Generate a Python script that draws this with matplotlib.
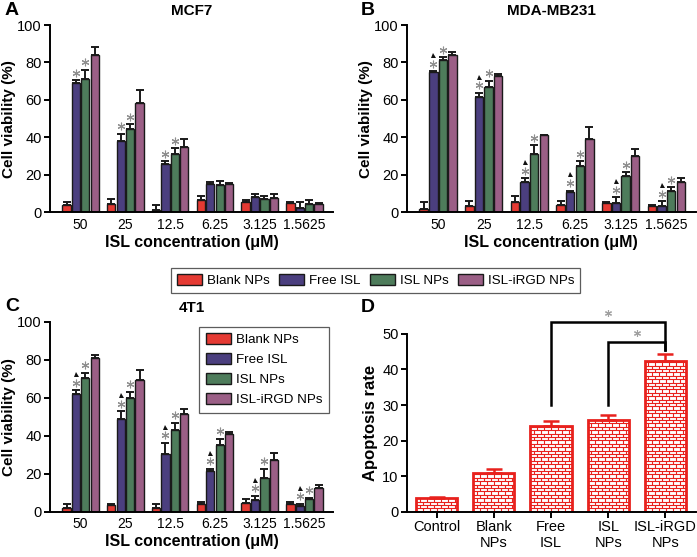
import matplotlib
matplotlib.use('Agg')
import matplotlib.pyplot as plt
from matplotlib.collections import LineCollection
import numpy as np

plt.rcParams['font.family'] = ['Liberation Sans', 'DejaVu Sans']

# ---- data ----
concentrations = ['50', '25', '12.5', '6.25', '3.125', '1.5625']
groups = ['Blank NPs', 'Free ISL', 'ISL NPs', 'ISL-iRGD NPs']
group_colors = ['#e53a33', '#4b3f7f', '#4e7c5b', '#9b5f86']

mcf7_mean = [[3.6, 4.5, 1.2, 6.3, 5.7, 5.0],
             [68.8, 38.0, 25.5, 15.2, 8.0, 2.3],
             [71.4, 44.3, 31.3, 14.6, 7.1, 4.5],
             [83.9, 58.4, 34.8, 15.2, 7.5, 4.5]]
mcf7_err = [[1.8, 2.7, 2.9, 2.3, 0.9, 0.7],
            [1.8, 3.9, 1.6, 0.9, 1.8, 3.0],
            [4.8, 2.7, 3.0, 2.3, 1.8, 1.8],
            [4.5, 6.8, 4.1, 0.5, 2.3, 0.5]]
mcf7_star = [[False] * 6,
             [True, True, True, False, False, False],
             [True, True, True, False, False, False],
             [False] * 6]
mcf7_tri = [[False] * 6] * 4

mda_mean = [[1.8, 3.2, 5.7, 3.9, 4.8, 3.2],
            [75.0, 61.6, 16.0, 10.7, 4.8, 3.2],
            [81.3, 67.0, 31.3, 24.6, 19.6, 11.3],
            [83.9, 72.7, 41.0, 39.0, 29.8, 16.0]]
mda_err = [[3.9, 2.7, 2.7, 2.3, 0.9, 0.9],
           [0.3, 2.3, 2.1, 0.9, 3.2, 2.7],
           [1.4, 3.2, 4.5, 2.5, 1.8, 2.1],
           [1.8, 1.4, 0.3, 6.6, 4.1, 2.3]]
mda_star = [[False] * 6, [True] * 6, [True] * 6, [False] * 6]
mda_tri = [[False] * 6, [True] * 6, [False] * 6, [False] * 6]

t1_mean = [[2.1, 3.5, 2.1, 4.0, 4.9, 4.0],
           [62.3, 48.8, 30.7, 21.4, 6.5, 3.2],
           [70.7, 60.0, 43.3, 35.4, 17.9, 6.7],
           [81.0, 69.6, 51.4, 41.2, 27.5, 12.6]]
t1_err = [[1.9, 0.9, 2.3, 1.0, 1.8, 1.2],
          [1.8, 4.2, 5.6, 1.2, 1.9, 0.9],
          [2.6, 3.2, 3.5, 3.2, 4.9, 0.7],
          [1.4, 5.3, 3.0, 0.9, 3.5, 1.4]]
t1_star = [[False] * 6, [True] * 6, [True] * 6, [False] * 6]
t1_tri = [[False] * 6, [True] * 6, [False] * 6, [False] * 6]

apo_labels = ['Control', 'Blank\nNPs', 'Free\nISL', 'ISL\nNPs', 'ISL-iRGD\nNPs']
apo_mean = [3.8, 10.8, 24.0, 25.7, 42.5]
apo_err = [0.4, 1.2, 1.4, 1.5, 1.8]
# brackets: (from bar, to bar, start height, top height, end height)
apo_brackets = [(2, 4, 30, 53.4, 45.5), (3, 4, 30, 47.8, 45.5)]

RED = '#e8211d'
STAR = (6, 2, 0)  # asterisk marker

fig = plt.figure(figsize=(6.97, 5.57), dpi=100)


def style_axes(ax):
    for s in ['top', 'right']:
        ax.spines[s].set_visible(False)
    for s in ['left', 'bottom']:
        ax.spines[s].set_linewidth(1.4)
    ax.tick_params(axis='y', direction='out', width=1.4, length=4, labelsize=10.5, pad=2)


def viability_panel(rect, means, errs, stars, tris, title, letter, legend=False):
    ax = fig.add_axes(rect)
    x = np.arange(len(concentrations))
    w = 0.185
    step = 0.21
    handles = []
    for i, name in enumerate(groups):
        xs = x + (i - 1.5) * step
        b = ax.bar(xs, means[i], width=w, color=group_colors[i], edgecolor='#1a1a1a',
                   linewidth=1.0, label=name, zorder=2)
        handles.append(b)
        ax.errorbar(xs, means[i], yerr=[np.zeros(len(x)), errs[i]], fmt='none',
                    ecolor='#1a1a1a', elinewidth=1.4, capsize=2.6, capthick=1.4, zorder=3)
        for j in range(len(x)):
            top = means[i][j] + errs[i][j]
            if stars[i][j]:
                ax.plot(xs[j], top + 4.0, marker=STAR, ms=5.5, mew=0.8, color='#8f8f8f',
                        zorder=4)
            if tris[i][j]:
                ax.plot(xs[j], top + 8.6, marker='^', ms=3.6, color='#111111', mew=0,
                        zorder=4)
    ax.set_xlim(-0.68, 5.64)
    ax.set_ylim(0, 100)
    ax.set_yticks([0, 20, 40, 60, 80, 100])
    ax.set_xticks(x)
    ax.set_xticklabels(concentrations)
    ax.tick_params(axis='x', length=0, labelsize=10, pad=4)
    style_axes(ax)
    ax.set_ylabel('Cell viability (%)', fontsize=11, fontweight='bold', labelpad=1)
    ax.set_xlabel('ISL concentration (\u03bcM)', fontsize=11.5, fontweight='bold', labelpad=2)
    ax.set_title(title, fontsize=11, fontweight='bold', pad=7)
    ax.text(-0.16, 1.08, letter, transform=ax.transAxes, fontsize=14, fontweight='bold',
            ha='left', va='center')
    if legend:
        lg = ax.legend(handles=handles, loc='upper right', bbox_to_anchor=(0.985, 0.975),
                       fontsize=9.6, frameon=True, fancybox=False, edgecolor='#333333',
                       handlelength=1.9, handleheight=0.9, handletextpad=0.35,
                       borderpad=0.5, labelspacing=0.5, borderaxespad=0)
        lg.get_frame().set_linewidth(0.9)
    return ax, handles


axA, hA = viability_panel([0.072, 0.619, 0.406, 0.336], mcf7_mean, mcf7_err,
                          mcf7_star, mcf7_tri, 'MCF7', 'A')
axB, _ = viability_panel([0.584, 0.619, 0.414, 0.336], mda_mean, mda_err,
                         mda_star, mda_tri, 'MDA-MB231', 'B')
axC, _ = viability_panel([0.072, 0.081, 0.406, 0.341], t1_mean, t1_err,
                         t1_star, t1_tri, '4T1', 'C', legend=True)

leg = fig.legend(handles=hA, labels=groups, loc='center', bbox_to_anchor=(0.539, 0.496),
                 ncol=4, fontsize=9.6, frameon=True, fancybox=False, edgecolor='#333333',
                 handlelength=1.9, handleheight=0.9, handletextpad=0.35, columnspacing=0.7,
                 borderpad=0.45)
leg.get_frame().set_linewidth(0.9)

# ---- panel D ----
axD = fig.add_axes([0.584, 0.081, 0.414, 0.3196])
xd = np.arange(len(apo_labels))
bars = axD.bar(xd, apo_mean, width=0.72, color='white', edgecolor=RED, linewidth=2.0, zorder=2)
axD.errorbar(xd, apo_mean, yerr=[np.zeros(len(xd)), apo_err], fmt='none', ecolor=RED,
             elinewidth=1.8, capsize=6, capthick=1.8, zorder=3)
axD.set_xlim(-0.52, 4.53)
axD.set_ylim(0, 50)
axD.set_yticks([0, 10, 20, 30, 40, 50])
axD.set_xticks(xd)
axD.set_xticklabels(apo_labels)
style_axes(axD)
axD.tick_params(axis='x', direction='out', width=1.4, length=4, labelsize=10.5, pad=2)
axD.set_ylabel('Apoptosis rate', fontsize=12, fontweight='bold', labelpad=3)
axD.text(-0.16, 1.15, 'D', transform=axD.transAxes, fontsize=14, fontweight='bold',
         ha='left', va='center')

# brick fill pattern
fig.canvas.draw()
inv = axD.transData.inverted()
p0 = inv.transform((0, 0))
p1 = inv.transform((7.0, 3.4))
bw, bh = p1 - p0
for b in bars:
    x0, y0 = b.get_x(), b.get_y()
    x1, y1 = x0 + b.get_width(), y0 + b.get_height()
    segs = []
    k = 0
    y = y0
    while y < y1:
        yt = min(y + bh, y1)
        segs.append([(x0, y), (x1, y)])
        off = 0 if k % 2 == 0 else bw / 2
        xx = x0 + off
        while xx < x1:
            segs.append([(xx, y), (xx, yt)])
            xx += bw
        y += bh
        k += 1
    lc = LineCollection(segs, colors=RED, linewidths=0.8, zorder=2.5)
    axD.add_collection(lc)
    lc.set_clip_path(b)

for (a, b2, h0, htop, h1) in apo_brackets:
    axD.plot([a, a, b2, b2], [h0, htop, htop, h1], color='black', lw=1.8,
             clip_on=False, solid_joinstyle='miter', zorder=4)
    axD.plot((a + b2) / 2, htop + 2.4, marker=STAR, ms=5, mew=0.8, color='#a0a0a0',
             clip_on=False, zorder=4)

fig.savefig('out.png', dpi=100)
